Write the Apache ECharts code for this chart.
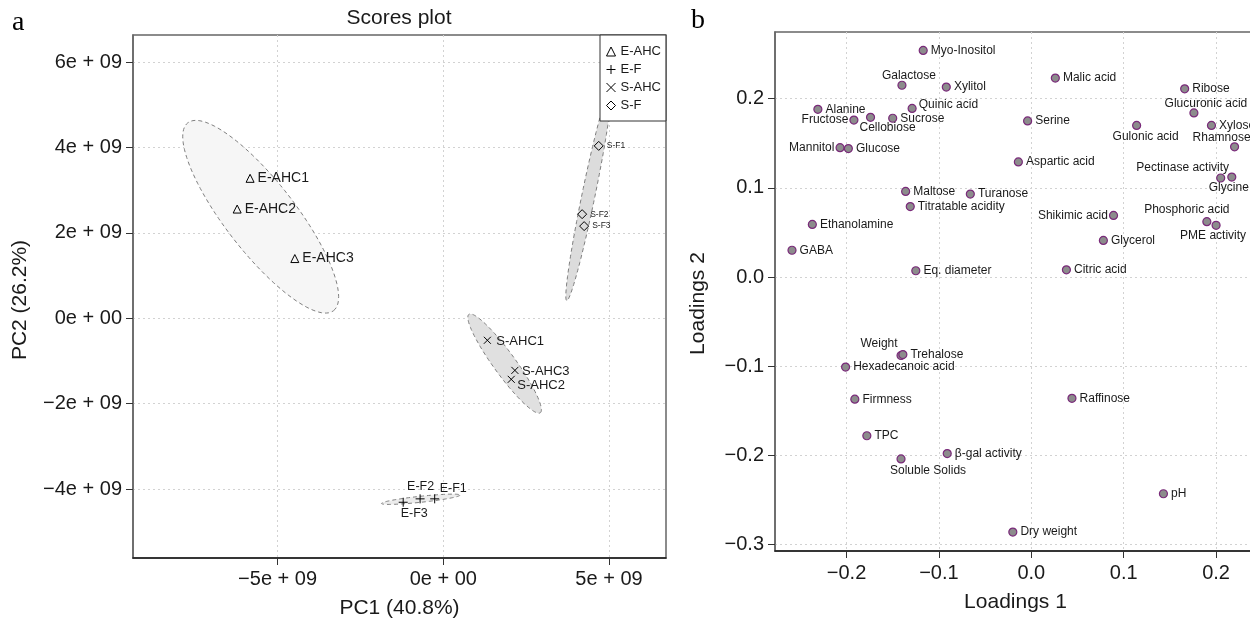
<!DOCTYPE html>
<html>
<head>
<meta charset="utf-8">
<script src="https://cdn.jsdelivr.net/npm/echarts@6/dist/echarts.min.js"></script>
<style>
html, body { margin: 0; padding: 0; background: #fff; }
#main { width: 1250px; height: 624px; }
</style>
</head>
<body>
<div id="main"></div>
<script>
// ---- 数据: 得分图 (PC1, PC2) ----
const eAhcNames = ['E-AHC1', 'E-AHC2', 'E-AHC3'];
const eAhcPC1 = [-5.83e9, -6.22e9, -4.48e9];
const eAhcPC2 = [3.28e9, 2.56e9, 1.40e9];

const eFNames = ['E-F1', 'E-F2', 'E-F3'];
const eFPC1 = [-0.26e9, -0.70e9, -1.21e9];
const eFPC2 = [-4.23e9, -4.23e9, -4.31e9];

const sAhcNames = ['S-AHC1', 'S-AHC2', 'S-AHC3'];
const sAhcPC1 = [1.33e9, 2.05e9, 2.16e9];
const sAhcPC2 = [-0.515e9, -1.43e9, -1.22e9];

const sFNames = ['S-F1', 'S-F2', 'S-F3'];
const sFPC1 = [4.69e9, 4.19e9, 4.25e9];
const sFPC2 = [4.04e9, 2.44e9, 2.16e9];

// 置信椭圆: 中心, 长半轴向量, 短半轴向量 (数据单位)
const ellipseGroups = ['E-AHC', 'E-F', 'S-AHC', 'S-F'];
const ellipseCenters = [[-5.51e9, 2.38e9], [-0.68e9, -4.24e9], [1.85e9, -1.06e9], [4.38e9, 2.88e9]];
const ellipseMajor = [[2.2e9, -2.2e9], [1.183e9, 0.098e9], [1.077e9, -1.153e9], [0.655e9, 2.467e9]];
const ellipseMinor = [[0.833e9, 0.506e9], [0.01e9, -0.07e9], [0.269e9, 0.152e9], [0.193e9, -0.031e9]];

const pc1Ticks = [-5e9, 0, 5e9];
const pc1TickLabels = ['−5e + 09', '0e + 00', '5e + 09'];
const pc2Ticks = [-4e9, -2e9, 0, 2e9, 4e9, 6e9];
const pc2TickLabels = ['−4e + 09', '−2e + 09', '0e + 00', '2e + 09', '4e + 09', '6e + 09'];

// ---- 数据: 载荷图 ----
const loadNames = ['Myo-Inositol', 'Galactose', 'Xylitol', 'Malic acid', 'Ribose', 'Glucuronic acid',
    'Xylose', 'Rhamnose', 'Alanine', 'Fructose', 'Cellobiose', 'Sucrose', 'Quinic acid', 'Serine',
    'Gulonic acid', 'Mannitol', 'Glucose', 'Aspartic acid', 'Pectinase activity', 'Glycine', 'Maltose',
    'Turanose', 'Titratable acidity', 'Shikimic acid', 'Phosphoric acid', 'PME activity', 'Ethanolamine',
    'Glycerol', 'GABA', 'Eq. diameter', 'Citric acid', 'Weight', 'Trehalose', 'Hexadecanoic acid',
    'Firmness', 'Raffinose', 'TPC', 'β-gal activity', 'Soluble Solids', 'pH', 'Dry weight'];
const loadings1 = [-0.117, -0.140, -0.092, 0.026, 0.166, 0.176,
    0.195, 0.220, -0.231, -0.192, -0.174, -0.150, -0.129, -0.004,
    0.114, -0.207, -0.198, -0.014, 0.205, 0.217, -0.136,
    -0.066, -0.131, 0.089, 0.190, 0.200, -0.237,
    0.078, -0.259, -0.125, 0.038, -0.141, -0.139, -0.201,
    -0.191, 0.044, -0.178, -0.091, -0.141, 0.143, -0.020];
const loadings2 = [0.254, 0.215, 0.213, 0.223, 0.211, 0.184,
    0.170, 0.146, 0.188, 0.176, 0.179, 0.178, 0.189, 0.175,
    0.170, 0.145, 0.144, 0.129, 0.111, 0.112, 0.096,
    0.093, 0.079, 0.069, 0.062, 0.058, 0.059,
    0.041, 0.030, 0.007, 0.008, -0.088, -0.087, -0.101,
    -0.137, -0.136, -0.178, -0.198, -0.204, -0.243, -0.286];

const load1Ticks = [-0.2, -0.1, 0, 0.1, 0.2];
const load1TickLabels = ['−0.2', '−0.1', '0.0', '0.1', '0.2'];
const load2Ticks = [-0.3, -0.2, -0.1, 0, 0.1, 0.2];
const load2TickLabels = ['−0.3', '−0.2', '−0.1', '0.0', '0.1', '0.2'];

// ---- 样式 ----
const FONT = '"Liberation Sans", Arial, sans-serif';
const TXT = '#1a1a1a';
const ellipseFills = ['#f6f6f6', '#ececec', '#e0e0e0', '#dcdcdc'];

// 标签位置 (载荷图)
const loadLeft = ['Fructose', 'Mannitol', 'Shikimic acid'];
const loadOffsets = {
    'Galactose': [7, -10],
    'Cellobiose': [17, 10.5],
    'Gulonic acid': [9, 11],
    'Rhamnose': [-13, -9.5],
    'Glucuronic acid': [12, -9],
    'Pectinase activity': [-38, -10],
    'Glycine': [-3, 11],
    'Phosphoric acid': [-20, -12],
    'PME activity': [-3, 10.5],
    'Weight': [-22, -11.5],
    'Soluble Solids': [27, 11.5]
};
// 标签位置 (得分图)
const scoreOffsets = {
    'E-F1': [18.5, -10.5],
    'E-F2': [0.5, -12.5],
    'E-F3': [11, 11]
};

function tickText(v, ticks, labels) {
    let i = ticks.findIndex(t => Math.abs(t - v) < Math.abs(ticks[1] - ticks[0]) * 1e-6);
    return i < 0 ? '' : labels[i];
}

function scoreLabel(name, fontSize, distance, extraOffset) {
    if (scoreOffsets[name]) {
        return { show: true, position: 'inside', offset: scoreOffsets[name], fontSize: fontSize, color: TXT, fontFamily: FONT };
    }
    return { show: true, position: 'right', distance: distance, offset: extraOffset || [0, 0], fontSize: fontSize, color: TXT, fontFamily: FONT };
}

function scoreData(names, xs, ys, fontSize, distance, offsets) {
    return names.map((n, i) => ({
        name: n,
        value: [xs[i], ys[i]],
        label: scoreLabel(n, fontSize, distance, offsets ? offsets[i] : null)
    }));
}

function loadLabel(name) {
    const base = { show: true, color: TXT, fontSize: 12, fontFamily: FONT, formatter: '{b}' };
    if (loadLeft.includes(name)) return Object.assign(base, { position: 'left', distance: 1 });
    if (loadOffsets[name]) return Object.assign(base, { position: 'inside', offset: loadOffsets[name] });
    if (name === 'Quinic acid') return Object.assign(base, { position: 'right', distance: 2, offset: [0, -4] });
    return Object.assign(base, { position: 'right', distance: 3 });
}

const loadData = loadNames.map((n, i) => ({ name: n, value: [loadings1[i], loadings2[i]], label: loadLabel(n) }));

const ellipseData = ellipseGroups.map((g, i) => [
    ellipseCenters[i][0], ellipseCenters[i][1],
    ellipseMajor[i][0], ellipseMajor[i][1],
    ellipseMinor[i][0], ellipseMinor[i][1]
]);

function renderEllipse(params, api) {
    const cx = api.value(0), cy = api.value(1);
    const ax = api.value(2), ay = api.value(3);
    const bx = api.value(4), by = api.value(5);
    const pts = [];
    for (let k = 0; k < 120; k++) {
        const t = k / 120 * Math.PI * 2;
        pts.push(api.coord([cx + ax * Math.cos(t) + bx * Math.sin(t), cy + ay * Math.cos(t) + by * Math.sin(t)]));
    }
    return {
        type: 'polygon',
        shape: { points: pts },
        style: { fill: ellipseFills[params.dataIndex], stroke: '#7f7f7f', lineWidth: 1, lineDash: [4, 3] }
    };
}

const hollow = { color: 'rgba(0,0,0,0)', borderColor: '#000', borderWidth: 1, opacity: 1 };
const plusPath = 'path://M5,0L5,10M0,5L10,5';
const crossPath = 'path://M0,0L10,10M10,0L0,10';

function valueAxis(gridIndex, min, max, step, ticks, labels, name, nameGap, margin, isX, namePad) {
    return {
        type: 'value',
        gridIndex: gridIndex,
        min: min, max: max,
        minInterval: step, maxInterval: step,
        name: name,
        nameLocation: 'middle',
        nameGap: nameGap,
        nameTextStyle: { fontSize: 21, color: TXT, fontFamily: FONT, padding: namePad || 0 },
        axisLine: { show: true, onZero: false, lineStyle: { color: isX ? '#1a1a1a' : '#666', width: 1.5 } },
        axisTick: { show: true, length: 7, customValues: ticks, lineStyle: { color: '#333', width: 1 } },
        axisLabel: {
            customValues: ticks,
            fontSize: 20, color: TXT, fontFamily: FONT, margin: margin,
            formatter: v => tickText(v, ticks, labels)
        },
        splitLine: { show: true, lineStyle: { color: '#d2d2d2', width: 1, type: [2, 3] } }
    };
}

let myChart = echarts.init(document.getElementById('main'), null, { renderer: 'canvas' });

let option = {
    backgroundColor: '#fff',
    animation: false,
    textStyle: { fontFamily: FONT },
    grid: [
        { left: 133, top: 35, width: 533, height: 523, show: true, borderColor: '#666', borderWidth: 1.5, outerBoundsMode: 'none', containLabel: false },
        { left: 775, top: 32, width: 481, height: 519, show: true, borderColor: '#666', borderWidth: 1.5, outerBoundsMode: 'none', containLabel: false }
    ],
    xAxis: [
        valueAxis(0, -9.363e9, 6.72e9, 5e9, pc1Ticks, pc1TickLabels, 'PC1 (40.8%)', 40, 11, true),
        valueAxis(1, -0.2774, 0.2432, 0.1, load1Ticks, load1TickLabels, 'Loadings 1', 41, 12, true)
    ],
    yAxis: [
        valueAxis(0, -5.616e9, 6.638e9, 2e9, pc2Ticks, pc2TickLabels, 'PC2 (26.2%)', 102, 11, false, [0, 7, 0, 0]),
        valueAxis(1, -0.3072, 0.2747, 0.1, load2Ticks, load2TickLabels, 'Loadings 2', 66, 11, false, [0, 24, 0, 0])
    ],
    legend: {
        left: 600, top: 35,
        orient: 'vertical',
        backgroundColor: '#fff',
        borderColor: '#333', borderWidth: 1, borderRadius: 0,
        padding: [10, 5, 9, 6],
        itemWidth: 9, itemHeight: 9, itemGap: 5,
        selectedMode: false,
        itemStyle: { borderWidth: 1, opacity: 1 },
        textStyle: { fontSize: 13, color: TXT, fontFamily: FONT, lineHeight: 9 },
        data: [
            { name: 'E-AHC', icon: 'triangle' },
            { name: 'E-F', icon: plusPath },
            { name: 'S-AHC', icon: crossPath },
            { name: 'S-F', icon: 'diamond' }
        ],
        z: 10
    },
    graphic: [
        { type: 'text', x: 12, y: 9, style: { text: 'a', fontSize: 28, fontFamily: '"Liberation Serif", serif', fill: '#000', align: 'left', verticalAlign: 'top' } },
        { type: 'text', x: 691, y: 7, style: { text: 'b', fontSize: 28, fontFamily: '"Liberation Serif", serif', fill: '#000', align: 'left', verticalAlign: 'top' } },
        { type: 'text', x: 399, y: 8, style: { text: 'Scores plot', fontSize: 21, fontFamily: FONT, fill: TXT, align: 'center', verticalAlign: 'top' } }
    ],
    series: [
        {
            name: 'ellipses',
            type: 'custom',
            xAxisIndex: 0, yAxisIndex: 0,
            renderItem: renderEllipse,
            encode: { x: 0, y: 1 },
            data: ellipseData,
            silent: true,
            z: 1
        },
        {
            name: 'E-AHC', type: 'scatter', xAxisIndex: 0, yAxisIndex: 0,
            symbol: 'triangle', symbolSize: 8, itemStyle: hollow, z: 3,
            label: { formatter: '{b}' },
            data: scoreData(eAhcNames, eAhcPC1, eAhcPC2, 14, 3)
        },
        {
            name: 'E-F', type: 'scatter', xAxisIndex: 0, yAxisIndex: 0,
            symbol: plusPath, symbolSize: 9, itemStyle: hollow, z: 3,
            label: { formatter: '{b}' },
            data: scoreData(eFNames, eFPC1, eFPC2, 12.5, 3)
        },
        {
            name: 'S-AHC', type: 'scatter', xAxisIndex: 0, yAxisIndex: 0,
            symbol: crossPath, symbolSize: 7, itemStyle: hollow, z: 3,
            label: { formatter: '{b}' },
            data: scoreData(sAhcNames, sAhcPC1, sAhcPC2, 13, 5, [[0, 1], [-3, 6], [-2, 1]])
        },
        {
            name: 'S-F', type: 'scatter', xAxisIndex: 0, yAxisIndex: 0,
            symbol: 'diamond', symbolSize: 9, itemStyle: hollow, z: 3,
            label: { formatter: '{b}' },
            data: scoreData(sFNames, sFPC1, sFPC2, 8.5, 3)
        },
        {
            name: 'loadings', type: 'scatter', xAxisIndex: 1, yAxisIndex: 1,
            symbol: 'circle', symbolSize: 8,
            itemStyle: { color: '#8c8c8c', borderColor: '#7a2a7a', borderWidth: 1.2, opacity: 1 },
            data: loadData,
            z: 3
        }
    ]
};

myChart.setOption(option);
window.addEventListener('resize', function () {
    myChart.resize();
});
</script>
</body>
</html>
